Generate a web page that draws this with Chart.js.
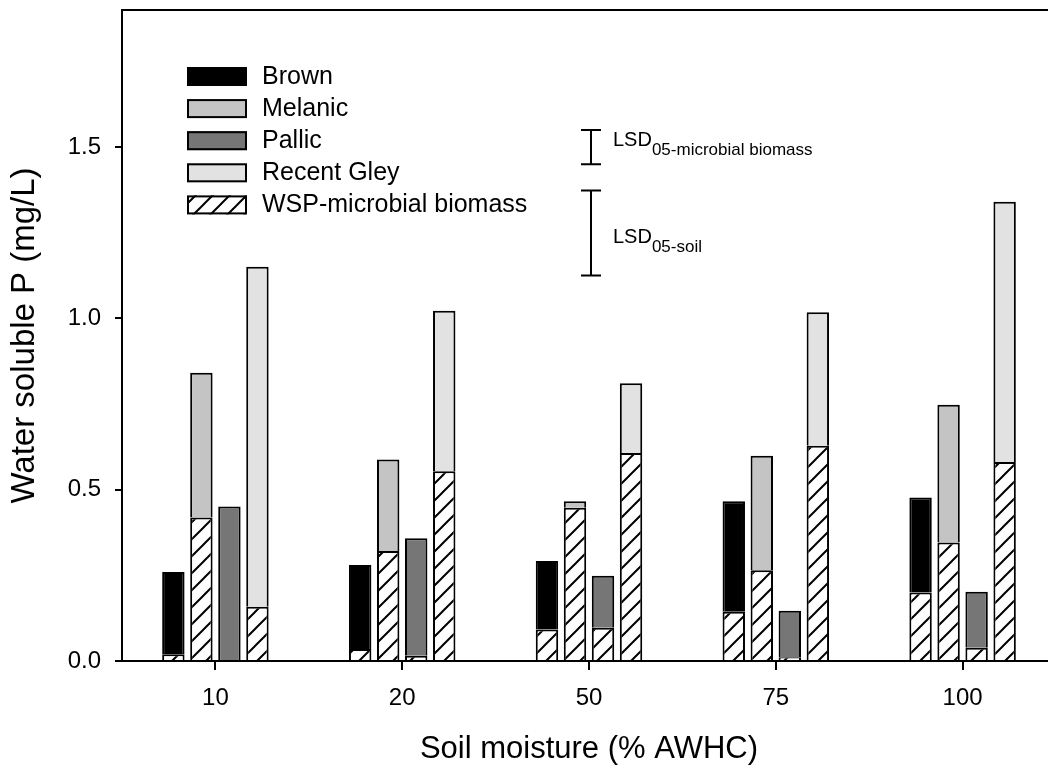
<!DOCTYPE html>
<html>
<head>
<meta charset="utf-8">
<script src="https://cdn.jsdelivr.net/npm/chart.js@4/dist/chart.umd.min.js"></script>
<style>
  html, body { margin: 0; padding: 0; background: #fff; overflow: hidden; }
  canvas { display: block; }
</style>
</head>
<body>
<canvas id="chart" width="1056" height="769"></canvas>
<script>
// Soil moisture levels (% AWHC)
const moisture = ['10', '20', '50', '75', '100'];

// Total water soluble P (mg/L) per soil
const brownTotal = [0.26, 0.28, 0.292, 0.466, 0.477];
const melanicTotal = [0.841, 0.588, 0.466, 0.599, 0.748];
const pallicTotal = [0.451, 0.358, 0.249, 0.147, 0.202];
const gleyTotal = [1.151, 1.022, 0.811, 1.018, 1.34];

// WSP-microbial biomass part (hatched, bottom of each bar)
const brownMicrobial = [0.02, 0.035, 0.092, 0.144, 0.2];
const melanicMicrobial = [0.419, 0.321, 0.447, 0.265, 0.346];
const pallicMicrobial = [0, 0.015, 0.097, 0.011, 0.039];
const gleyMicrobial = [0.158, 0.554, 0.607, 0.628, 0.581];

// LSD bars (low / high ends, mg/L)
const lsdNames = ['05-microbial biomass', '05-soil'];
const lsdLow = [1.45, 1.125];
const lsdHigh = [1.55, 1.373];

const yTicks = [0, 0.5, 1.0, 1.5];

const soils = ['Brown', 'Melanic', 'Pallic', 'Recent Gley'];
const soilColors = ['#000000', '#c4c4c4', '#767676', '#e2e2e2'];
const totals = [brownTotal, melanicTotal, pallicTotal, gleyTotal];
const microbial = [brownMicrobial, melanicMicrobial, pallicMicrobial, gleyMicrobial];

const FONT = '"Liberation Sans", Arial, sans-serif';

const canvas = document.getElementById('chart');
const ctx = canvas.getContext('2d');

// diagonal hatch "/" on white
function makeHatch() {
    const size = 17;
    const c = document.createElement('canvas');
    c.width = size;
    c.height = size;
    const g = c.getContext('2d');
    g.fillStyle = '#fff';
    g.fillRect(0, 0, size, size);
    g.strokeStyle = '#000';
    g.lineWidth = 2;
    g.beginPath();
    g.moveTo(-2, size + 2); g.lineTo(size + 2, -2);
    g.moveTo(-2, 2); g.lineTo(2, -2);
    g.moveTo(size - 2, size + 2); g.lineTo(size + 2, size - 2);
    g.stroke();
    return ctx.createPattern(c, 'repeat');
}
const hatch = makeHatch();

const datasets = [];
soils.forEach((soil, i) => {
    datasets.push({
        label: 'WSP-microbial biomass',
        stack: soil,
        data: microbial[i],
        backgroundColor: hatch,
        borderColor: '#000',
        borderWidth: 2
    });
    datasets.push({
        label: soil,
        stack: soil,
        data: totals[i].map((t, k) => +(t - microbial[i][k]).toFixed(3)),
        backgroundColor: soilColors[i],
        borderColor: '#000',
        borderWidth: 2
    });
});

// top frame line, legend and LSD bars
const extras = {
    id: 'extras',
    afterDraw(chart) {
        const { ctx, chartArea, scales } = chart;
        ctx.save();
        ctx.strokeStyle = '#000';
        ctx.lineWidth = 2;
        ctx.beginPath();
        ctx.moveTo(chartArea.left - 1, chartArea.top);
        ctx.lineTo(chartArea.right, chartArea.top);
        ctx.stroke();

        // legend
        const items = soils.map((s, i) => ({ text: s, fill: soilColors[i] }));
        items.push({ text: 'WSP-microbial biomass', fill: hatch });
        const bx = chartArea.left + 65;
        let by = 67;
        ctx.font = '25px ' + FONT;
        ctx.textBaseline = 'middle';
        ctx.textAlign = 'left';
        items.forEach(item => {
            ctx.fillStyle = item.fill;
            ctx.fillRect(bx, by, 60, 19);
            ctx.lineWidth = 2;
            ctx.strokeStyle = '#000';
            ctx.strokeRect(bx + 1, by + 1, 58, 17);
            ctx.fillStyle = '#000';
            ctx.fillText(item.text, bx + 75, by + 10);
            by += 32.1;
        });

        // LSD bars
        const x = scales.x.getPixelForValue(2) + 2;
        lsdNames.forEach((name, i) => {
            const yTop = scales.y.getPixelForValue(lsdHigh[i]);
            const yBot = scales.y.getPixelForValue(lsdLow[i]);
            ctx.strokeStyle = '#000';
            ctx.lineWidth = 2;
            ctx.beginPath();
            ctx.moveTo(x, yTop); ctx.lineTo(x, yBot);
            ctx.moveTo(x - 10, yTop); ctx.lineTo(x + 10, yTop);
            ctx.moveTo(x - 10, yBot); ctx.lineTo(x + 10, yBot);
            ctx.stroke();

            const ty = (yTop + yBot) / 2 + (i === 0 ? -7 : 4);
            ctx.fillStyle = '#000';
            ctx.font = '20px ' + FONT;
            ctx.fillText('LSD', x + 22, ty);
            const w = ctx.measureText('LSD').width;
            ctx.font = '17px ' + FONT;
            ctx.fillText(name, x + 22 + w, ty + 10);
        });
        ctx.restore();
    }
};

new Chart(ctx, {
    type: 'bar',
    data: { labels: moisture, datasets: datasets },
    plugins: [extras],
    options: {
        responsive: false,
        devicePixelRatio: 1,
        animation: false,
        layout: { padding: { top: 10, right: 0, bottom: 0, left: 0 } },
        datasets: { bar: { categoryPercentage: 0.6, barPercentage: 0.8 } },
        plugins: { legend: { display: false }, tooltip: { enabled: false } },
        scales: {
            x: {
                stacked: true,
                grid: { offset: false, drawOnChartArea: false, tickLength: 9, color: '#000', lineWidth: 2 },
                border: { color: '#000', width: 2 },
                ticks: { color: '#000', font: { family: FONT, size: 24 }, padding: 14 },
                title: {
                    display: true,
                    text: 'Soil moisture (% AWHC)',
                    color: '#000',
                    font: { family: FONT, size: 31 },
                    padding: { top: 0, bottom: 1 }
                },
                afterFit(scale) {
                    scale.height = 108;
                    scale.paddingLeft = 0;
                    scale.paddingRight = 0;
                }
            },
            y: {
                stacked: true,
                min: 0,
                max: 1.9,
                grid: { drawOnChartArea: false, tickLength: 7, color: '#000', lineWidth: 2 },
                border: { color: '#000', width: 2 },
                ticks: {
                    stepSize: 0.5,
                    includeBounds: false,
                    color: '#000',
                    font: { family: FONT, size: 24 },
                    padding: 14,
                    callback: v => yTicks.includes(v) ? v.toFixed(1) : ''
                },
                title: {
                    display: true,
                    text: 'Water soluble P (mg/L)',
                    color: '#000',
                    font: { family: FONT, size: 33 },
                    padding: { top: 5, bottom: 0 }
                },
                afterFit(scale) {
                    scale.width = 122;
                    scale.paddingTop = 0;
                    scale.paddingBottom = 0;
                }
            }
        }
    }
});
</script>
</body>
</html>
